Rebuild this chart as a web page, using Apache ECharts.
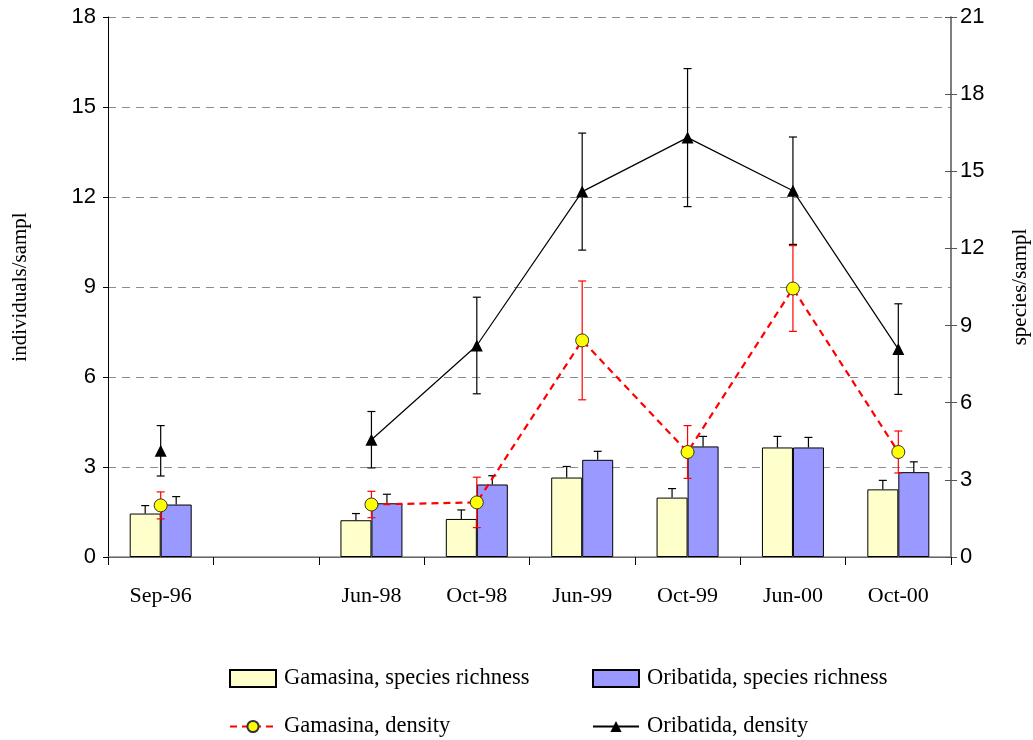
<!DOCTYPE html>
<html>
<head>
<meta charset="utf-8">
<script src="https://cdn.jsdelivr.net/npm/echarts@6/dist/echarts.min.js"></script>
<style>
html,body{margin:0;padding:0;background:#fff;}
#chart{width:1033px;height:740px;}
</style>
</head>
<body>
<div id="chart"></div>
<script>
const categories = ['Sep-96', '', 'Jun-98', 'Oct-98', 'Jun-99', 'Oct-99', 'Jun-00', 'Oct-00'];
const leftTicks = [0, 3, 6, 9, 12, 15, 18];
const rightTicks = [0, 3, 6, 9, 12, 15, 18, 21];

const gamRich    = [1.69, null, 1.43, 1.48, 3.09, 2.31, 4.26, 2.63];
const gamRichErr = [0.31, null, 0.26, 0.35, 0.43, 0.35, 0.43, 0.35];
const oriRich    = [2.04, null, 2.09, 2.82, 3.78, 4.30, 4.26, 3.30];
const oriRichErr = [0.31, null, 0.35, 0.34, 0.33, 0.39, 0.39, 0.40];

const gamDens    = [1.72, null, 1.75, 1.82, 7.22, 3.50, 8.95, 3.50];
const gamDensErr = [0.45, null, 0.44, 0.84, 1.98, 0.88, 1.43, 0.70];
const oriDens    = [3.54, null, 3.91, 7.05, 12.18, 13.98, 12.21, 6.93];
const oriDensErr = [0.84, null, 0.94, 1.61, 1.95, 2.30, 1.79, 1.51];

const names = ['Gamasina, species richness', 'Oribatida, species richness', 'Gamasina, density', 'Oribatida, density'];

const SERIF = '"Liberation Serif", "DejaVu Serif", serif';
const SANS = '"Liberation Sans", Arial, sans-serif';
const BAR_W = 31;

function errData(vals, errs) {
  const out = [];
  vals.forEach((v, i) => { if (v !== null) out.push([i, v, errs[i]]); });
  return out;
}

function errSeries(vals, errs, yAxisIndex, offset, color, upperOnly, z, width) {
  return {
    type: 'custom',
    yAxisIndex: yAxisIndex,
    z: z,
    silent: true,
    encode: { x: 0, y: 1 },
    data: errData(vals, errs),
    renderItem: function (params, api) {
      const i = api.value(0), v = api.value(1), e = api.value(2);
      const c = api.coord([i, v]);
      const t = api.coord([i, v + e]);
      const b = api.coord([i, upperOnly ? v : v - e]);
      const x = c[0] + offset;
      const cap = 4;
      const st = { stroke: color, lineWidth: width };
      const children = [
        { type: 'line', shape: { x1: x, y1: t[1], x2: x, y2: b[1] }, style: st },
        { type: 'line', shape: { x1: x - cap, y1: t[1], x2: x + cap, y2: t[1] }, style: st }
      ];
      if (!upperOnly) {
        children.push({ type: 'line', shape: { x1: x - cap, y1: b[1], x2: x + cap, y2: b[1] }, style: st });
      }
      return { type: 'group', children: children };
    }
  };
}

const chart = echarts.init(document.getElementById('chart'), null, { renderer: 'canvas' });

const legendText = { fontFamily: SERIF, fontSize: 22.5, color: '#000', padding: [0, 0, 0, 3] };

const option = {
  animation: false,
  backgroundColor: '#fff',
  grid: { left: 108, right: 82, top: 17, bottom: 183, containLabel: false, outerBoundsMode: 'none' },
  legend: [
    { data: [{ name: names[0], icon: 'rect' }], left: 229, top: 667, padding: 0, itemWidth: 46, itemHeight: 17, itemGap: 0, textStyle: legendText, selectedMode: false },
    { data: [{ name: names[1], icon: 'rect' }], left: 592, top: 667, padding: 0, itemWidth: 46, itemHeight: 17, itemGap: 0, textStyle: legendText, selectedMode: false },
    { data: [names[2]], left: 229, top: 715, padding: 0, itemWidth: 46, itemHeight: 14, itemGap: 0, textStyle: legendText, selectedMode: false },
    { data: [names[3]], left: 592, top: 715, padding: 0, itemWidth: 46, itemHeight: 14, itemGap: 0, textStyle: legendText, selectedMode: false }
  ],
  xAxis: [
    {
      type: 'category',
      data: categories,
      position: 'bottom',
      boundaryGap: true,
      axisLine: { lineStyle: { color: '#000', width: 1 } },
      axisTick: { show: true, inside: false, length: 8, alignWithLabel: false, lineStyle: { color: '#000' } },
      axisLabel: { fontFamily: SERIF, fontSize: 22, color: '#000', margin: 28 },
      splitLine: { show: false }
    },
    {
      type: 'category',
      data: categories,
      position: 'top',
      axisLine: { show: true, lineStyle: { color: '#8a8a8a', width: 1.5 } },
      axisTick: { show: false },
      axisLabel: { show: false },
      splitLine: { show: false }
    }
  ],
  yAxis: [
    {
      type: 'value',
      position: 'left',
      min: leftTicks[0],
      max: leftTicks[leftTicks.length - 1],
      interval: 3,
      name: 'individuals/sampl',
      nameLocation: 'middle',
      nameRotate: 90,
      nameGap: 77,
      nameTextStyle: { fontFamily: SERIF, fontSize: 21, color: '#000' },
      axisLine: { show: true, lineStyle: { color: '#000', width: 1 } },
      axisTick: { show: true, inside: false, length: 5, lineStyle: { color: '#000' } },
      axisLabel: { fontFamily: SANS, fontSize: 22, color: '#000', margin: 12 },
      splitLine: { show: true, lineStyle: { color: '#8c8c8c', type: [8, 6], width: 1 } }
    },
    {
      type: 'value',
      position: 'right',
      min: rightTicks[0],
      max: rightTicks[rightTicks.length - 1],
      interval: 3,
      name: 'species/sampl',
      nameLocation: 'middle',
      nameRotate: 90,
      nameGap: 59,
      nameTextStyle: { fontFamily: SERIF, fontSize: 21, color: '#000' },
      axisLine: { show: true, lineStyle: { color: '#555', width: 1.5 } },
      axisTick: { show: true, inside: false, length: 6, lineStyle: { color: '#555' } },
      axisLabel: { fontFamily: SANS, fontSize: 22, color: '#000', margin: 9 },
      splitLine: { show: false }
    },
    {
      type: 'value',
      position: 'right',
      min: rightTicks[0],
      max: rightTicks[rightTicks.length - 1],
      interval: 3,
      axisLine: { show: false },
      axisTick: { show: true, inside: true, length: 6, lineStyle: { color: '#555' } },
      axisLabel: { show: false },
      splitLine: { show: false }
    }
  ],
  series: [
    {
      name: names[0], type: 'bar', yAxisIndex: 1, data: gamRich,
      barWidth: BAR_W, barGap: '0%', z: 2,
      itemStyle: { color: '#FFFFCC', borderColor: '#000', borderWidth: 1 }
    },
    {
      name: names[1], type: 'bar', yAxisIndex: 1, data: oriRich,
      barWidth: BAR_W, barGap: '0%', z: 2,
      itemStyle: { color: '#9999FF', borderColor: '#000', borderWidth: 1 }
    },
    errSeries(gamRich, gamRichErr, 1, -BAR_W / 2, '#000', true, 3, 1.2),
    errSeries(oriRich, oriRichErr, 1, BAR_W / 2, '#000', true, 3, 1.2),
    errSeries(gamDens, gamDensErr, 0, 0, '#ff0000', false, 4, 1.2),
    errSeries(oriDens, oriDensErr, 0, 0, '#000', false, 4, 1.2),
    {
      name: names[2], type: 'line', yAxisIndex: 0, data: gamDens, z: 5,
      connectNulls: false,
      symbol: 'circle', symbolSize: 13,
      lineStyle: { color: '#ff0000', width: 2.2, type: [7, 5] },
      itemStyle: { color: '#FFFF00', borderColor: '#333', borderWidth: 1 }
    },
    {
      name: names[3], type: 'line', yAxisIndex: 0, data: oriDens, z: 5,
      connectNulls: false,
      symbol: 'triangle', symbolSize: 12,
      lineStyle: { color: '#000', width: 1.2 },
      itemStyle: { color: '#000' }
    }
  ]
};

chart.setOption(option);
</script>
</body>
</html>
